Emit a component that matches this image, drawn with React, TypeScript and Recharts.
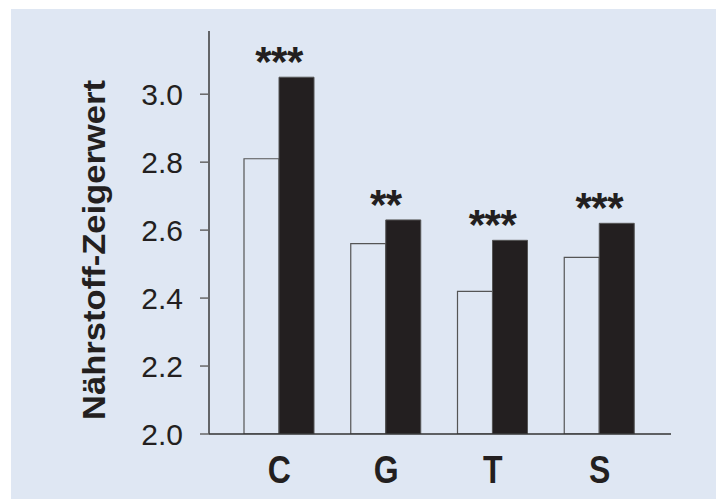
import React from 'react';
import { BarChart, Bar, XAxis, YAxis, LabelList } from 'recharts';

const categories = ['C', 'G', 'T', 'S'];
const openValues = [2.81, 2.56, 2.42, 2.52];
const filledValues = [3.05, 2.63, 2.57, 2.62];
const significance = ['***', '**', '***', '***'];
const yTicks = [2.0, 2.2, 2.4, 2.6, 2.8, 3.0];
const yTitle = 'Nährstoff-Zeigerwert';

const data = categories.map((c, i) => ({
  cat: c,
  open: openValues[i],
  filled: filledValues[i],
  sig: significance[i],
}));

const FONT = '"Liberation Sans", Arial, Helvetica, sans-serif';
const INK = '#231f20';

const StarLabel = (props: any) => {
  const { x, y, value } = props;
  return (
    <text
      x={x}
      y={y - 1}
      textAnchor="middle"
      fontFamily={FONT}
      fontWeight="bold"
      fontSize={42}
      letterSpacing={-0.5}
      fill={INK}
    >
      {value}
    </text>
  );
};

const XTick = (props: any) => {
  const { x, payload } = props;
  return (
    <g transform={`translate(${x},483) scale(1,1.2)`}>
      <text x={0} y={0} textAnchor="middle" fontFamily={FONT} fontWeight="bold" fontSize={32} fill={INK}>
        {payload.value}
      </text>
    </g>
  );
};

const YTitle = () => (
  <g transform="translate(105,250) rotate(-90) scale(1.08,1)">
    <text x={0} y={0} textAnchor="middle" fontFamily={FONT} fontWeight="bold" fontSize={32} fill={INK}>
      {yTitle}
    </text>
  </g>
);

export default function App() {
  return (
    <div style={{ position: 'absolute', left: 0, top: 0, width: 716, height: 499, background: '#ffffff' }}>
      <div style={{ position: 'absolute', left: 11, top: 9, right: 0, bottom: 0, background: '#dfe7f3' }} />
      <div style={{ position: 'absolute', left: 0, top: 0 }}>
        <BarChart
          width={716}
          height={499}
          data={data}
          margin={{ top: 31, right: 45, left: 0, bottom: 0 }}
          barCategoryGap={18}
          barGap={0}
        >
          <XAxis
            dataKey="cat"
            height={65}
            padding={{ left: 17, right: 18 }}
            tickLine={false}
            axisLine={{ stroke: '#333333', strokeWidth: 1.5 }}
            tick={<XTick />}
            interval={0}
          />
          <YAxis
            width={209}
            domain={[2, 3.186]}
            ticks={yTicks}
            allowDataOverflow
            tickSize={9}
            tickMargin={17}
            tickFormatter={(v: number) => v.toFixed(1)}
            axisLine={{ stroke: '#3a3a3a', strokeWidth: 1.5 }}
            tickLine={{ stroke: '#666666', strokeWidth: 1.5 }}
            tick={{ fontFamily: FONT, fontSize: 30, fill: INK }}
          />
          <Bar dataKey="open" fill="none" stroke="#555555" strokeWidth={1.2} isAnimationActive={false} />
          <Bar dataKey="filled" fill={INK} stroke="#555555" strokeWidth={1} isAnimationActive={false}>
            <LabelList dataKey="sig" content={<StarLabel />} />
          </Bar>
          <YTitle />
        </BarChart>
      </div>
    </div>
  );
}
